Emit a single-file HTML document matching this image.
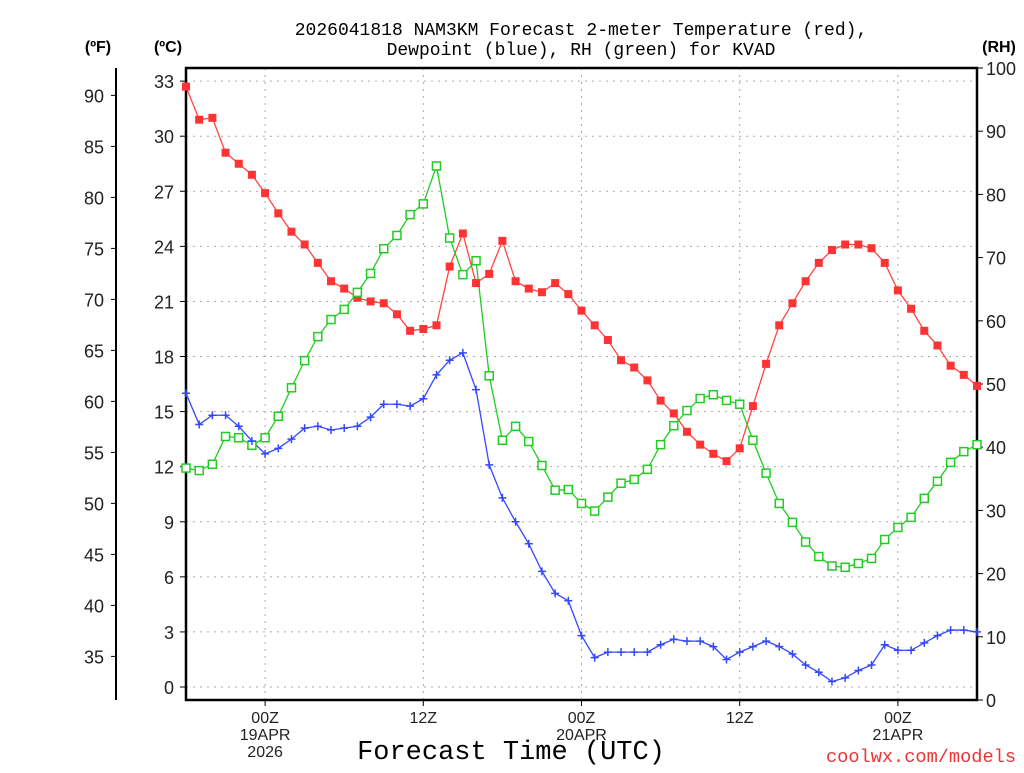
<!DOCTYPE html>
<html><head><meta charset="utf-8"><style>
body{margin:0;background:#fff;}
svg text{font-family:"Liberation Sans","DejaVu Sans",sans-serif;}
svg text.mono{font-family:"Liberation Mono","DejaVu Sans Mono",monospace;}
</style></head><body>
<svg id="chart" width="1024" height="768" xmlns="http://www.w3.org/2000/svg">
<g id="grid"></g>
<g id="axes"></g>
<g id="series"></g>
<text class="mono" x="581" y="35" text-anchor="middle" font-size="18">2026041818 NAM3KM Forecast 2-meter Temperature (red),</text>
<text class="mono" x="581" y="55" text-anchor="middle" font-size="18">Dewpoint (blue), RH (green) for KVAD</text>
<text x="98" y="52" text-anchor="middle" font-size="16" font-weight="bold">(ºF)</text>
<text x="168" y="52" text-anchor="middle" font-size="16" font-weight="bold">(ºC)</text>
<text x="999" y="52" text-anchor="middle" font-size="16" font-weight="bold">(RH)</text>
<text class="mono" x="511" y="759" text-anchor="middle" font-size="27">Forecast Time (UTC)</text>
<text class="mono" x="826" y="762" font-size="18" textLength="190" lengthAdjust="spacingAndGlyphs" fill="#e33">coolwx.com/models</text>
</svg>
<script>
const hours=[];for(let i=0;i<=60;i++)hours.push(i);
const tempC=[32.7,30.9,31.0,29.1,28.5,27.9,26.9,25.8,24.8,24.1,23.1,22.1,21.7,21.2,21.0,20.9,20.3,19.4,19.5,19.7,22.9,24.7,22.0,22.5,24.3,22.1,21.7,21.5,22.0,21.4,20.5,19.7,18.9,17.8,17.4,16.7,15.6,14.9,13.9,13.2,12.7,12.3,13.0,15.3,17.6,19.7,20.9,22.1,23.1,23.8,24.1,24.1,23.9,23.1,21.6,20.6,19.4,18.6,17.5,17.0,16.4];
const dewC=[16.0,14.3,14.8,14.8,14.2,13.4,12.7,13.0,13.5,14.1,14.2,14.0,14.1,14.2,14.7,15.4,15.4,15.3,15.7,17.0,17.8,18.2,16.2,12.1,10.3,9.0,7.8,6.3,5.1,4.7,2.8,1.6,1.9,1.9,1.9,1.9,2.3,2.6,2.5,2.5,2.2,1.5,1.9,2.2,2.5,2.2,1.8,1.2,0.8,0.3,0.5,0.9,1.2,2.3,2.0,2.0,2.4,2.8,3.1,3.1,3.0];
const rh=[36.7,36.3,37.3,41.7,41.5,40.3,41.5,44.9,49.4,53.7,57.5,60.2,61.8,64.5,67.5,71.4,73.5,76.8,78.5,84.5,73.1,67.3,69.5,51.3,41.1,43.3,40.9,37.1,33.2,33.3,31.1,29.9,32.1,34.3,34.9,36.5,40.4,43.4,45.8,47.7,48.3,47.4,46.8,41.1,35.9,31.1,28.1,25.0,22.7,21.2,21.0,21.6,22.4,25.4,27.3,28.9,31.9,34.6,37.6,39.3,40.4];
const cTicks=[0,3,6,9,12,15,18,21,24,27,30,33];
const fTicks=[35,40,45,50,55,60,65,70,75,80,85,90];
const rhTicks=[0,10,20,30,40,50,60,70,80,90,100];
const xTickHours=[6,18,30,42,54];
const xTickLabels=[["00Z","19APR","2026"],["12Z"],["00Z","20APR"],["12Z"],["00Z","21APR"]];
const L=186,R=977,T=68,B=700;
const xs=h=>L+(R-L)*h/60;
const yc=c=>687-c*18.36;
const yf=f=>yc((f-32)*5/9);
const yr=r=>B-(B-T)*r/100;
const NS="http://www.w3.org/2000/svg";
function mk(tag,attrs,parent,txt){const e=document.createElementNS(NS,tag);for(const k in attrs)e.setAttribute(k,attrs[k]);if(txt!==undefined)e.textContent=txt;parent.appendChild(e);return e;}
const grid=document.getElementById('grid'),axes=document.getElementById('axes'),ser=document.getElementById('series');
cTicks.forEach(c=>{
 const y=yc(c);
 const g=mk('line',{x1:L,x2:R,y1:y,y2:y,stroke:'#aaa','stroke-dasharray':'2,5'},grid);
 
 
 mk('line',{x1:L-6,x2:L,y1:y,y2:y,stroke:'#000'},axes);
 const t=mk('text',{x:L-12,y:y+7,'text-anchor':'end','font-size':'18',fill:'#222'},axes,String(c));
 
 
});
xTickHours.forEach((h,i)=>{
 const x=xs(h);
 const g=mk('line',{x1:x,x2:x,y1:T,y2:B,stroke:'#aaa','stroke-dasharray':'2,5'},grid);
 
 
 mk('line',{x1:x,x2:x,y1:B,y2:B+6,stroke:'#000'},axes);
 xTickLabels[i].forEach((s,j)=>{
  const t=mk('text',{x:x,y:B+23+j*17,'text-anchor':'middle','font-size':'16',fill:'#222'},axes,s);
  
  
 });
});
fTicks.forEach(f=>{
 const y=yf(f);
 mk('line',{x1:111,x2:116,y1:y,y2:y,stroke:'#000'},axes);
 const t=mk('text',{x:104,y:y+7,'text-anchor':'end','font-size':'18',fill:'#222'},axes,String(f));
 
 
});
rhTicks.forEach(r=>{
 const y=yr(r);
 mk('line',{x1:R,x2:R+6,y1:y,y2:y,stroke:'#000'},axes);
 const t=mk('text',{x:R+9,y:y+7,'text-anchor':'start','font-size':'18',fill:'#222'},axes,String(r));
 
 
});
const fl=mk('line',{x1:116,x2:116,y1:T,y2:B,stroke:'#000','stroke-width':2},axes);


const fr=mk('rect',{x:L,y:T,width:R-L,height:B-T,fill:'none',stroke:'#000','stroke-width':2.5},axes);


function line(vals,yfn,color,name){
 const p=mk('polyline',{points:vals.map((v,i)=>xs(hours[i])+','+yfn(v)).join(' '),fill:'none',stroke:color,'stroke-width':1.3},ser);
 
 
}
line(tempC,yc,'#f44','temperature-line');
line(dewC,yc,'#3348ff','dewpoint-line');
line(rh,yr,'#22cc22','rh-line');
tempC.forEach((v,i)=>{const m=mk('rect',{x:xs(hours[i])-4,y:yc(v)-4,width:8,height:8,fill:'#f33'},ser);
 
 });
rh.forEach((v,i)=>{const m=mk('rect',{x:xs(hours[i])-4,y:yr(v)-4,width:8,height:8,fill:'#fff',stroke:'#22cc22','stroke-width':1.5},ser);
 
 });
dewC.forEach((v,i)=>{const x=xs(hours[i]),y=yc(v);const m=mk('path',{d:`M${x-4},${y}H${x+4}M${x},${y-4}V${y+4}`,stroke:'#3348ff','stroke-width':1.5},ser);
 
 });
</script>
</body></html>
